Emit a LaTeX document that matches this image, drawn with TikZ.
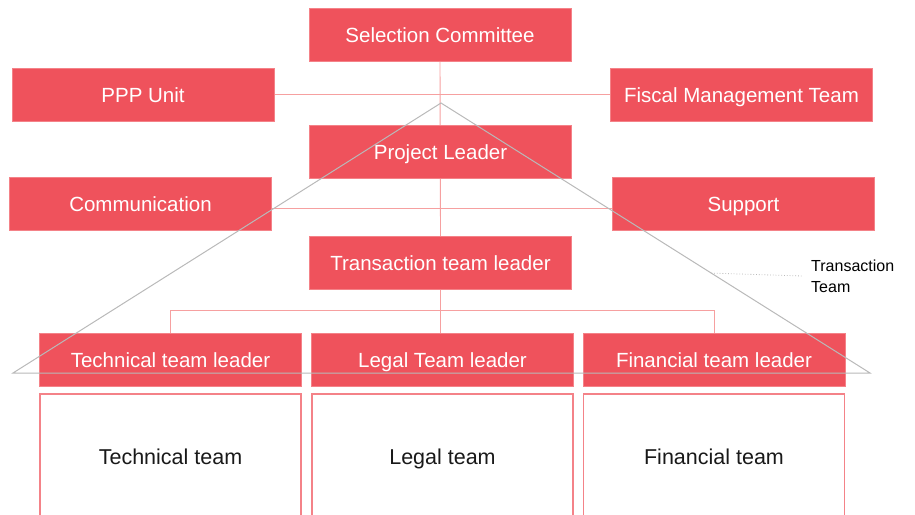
\documentclass[tikz,border=0pt]{standalone}
\usepackage{fontspec}
\setmainfont{Liberation Sans}
\usetikzlibrary{calc}
\pgfdeclarelayer{background}
\pgfsetlayers{background,main}
\definecolor{boxred}{RGB}{239,82,92}
\definecolor{boxedge}{RGB}{244,130,136}
\definecolor{linkred}{RGB}{246,160,160}
\definecolor{trigray}{RGB}{185,185,185}
\tikzset{
  redbox/.style={fill=boxred, draw=boxedge, line width=0.8pt, minimum width=262pt, minimum height=53pt,
    inner sep=0pt, text height=17pt, text depth=2pt, text=white, font=\fontsize{20.5}{24}\selectfont},
  teambox/.style={draw=boxedge, line width=1.5pt, fill=white, minimum width=261pt, minimum height=130pt,
    inner sep=0pt},
  teamlabel/.style={text=black!90, font=\fontsize{21.5}{26}\selectfont, inner sep=0pt,
    text height=18pt, text depth=2pt},
  link/.style={draw=linkred, line width=0.9pt},
  tri/.style={draw=trigray, line width=1pt},
}
\begin{document}
\begin{tikzpicture}[x=1pt,y=-1pt]
\useasboundingbox (0,0) rectangle (915,514);
\clip (0,0) rectangle (915,514);
\node[redbox] (sc) at (440,34.5) {Selection Committee};
\node[redbox] (ppp) at (143,94.5) {PPP Unit};
\node[redbox] (fmt) at (741.5,94.5) {Fiscal Management Team};
\node[redbox] (pl) at (440.5,152) {Project Leader};
\node[redbox] (com) at (140.5,203.5) {Communication};
\node[redbox] (sup) at (743.5,203.5) {Support};
\node[redbox] (ttl) at (440.5,263) {Transaction team leader};
\node[redbox] (tech) at (170.5,359.5) {Technical team leader};
\node[redbox] (legal) at (442.5,359.5) {Legal Team leader};
\node[redbox] (fin) at (714,359.5) {Financial team leader};
\node[teambox, anchor=north] (techt) at (170.5,393) {};
\node[teambox, anchor=north] (legalt) at (442.5,393) {};
\node[teambox, anchor=north] (fint) at (714,393) {};
\node[teamlabel] (techtl) at (170.5,456) {Technical team};
\node[teamlabel] (legaltl) at (442.5,456) {Legal team};
\node[teamlabel] (fintl) at (714,456) {Financial team};
\begin{pgfonlayer}{background}
  \path[link] (sc.south) -- (ttl.north);
  \path[link] (ttl.south) -- (ttl.south |- legal.north);
  \path[link] (ppp.east) -- (fmt.west);
  \path[link] ([yshift=-4.5pt]com.east) -- ([yshift=-4.5pt]sup.west);
  \path[link] (tech.north) -- ++(0,-22) -| (fin.north);
\end{pgfonlayer}
\coordinate (apex) at (441,103);
\coordinate (tl) at (13,373);
\coordinate (tr) at (870,373);
\path[tri] (tl) -- (apex) -- (tr) -- cycle;
\node[anchor=west, align=left, text=black, font=\fontsize{16}{21}\selectfont, inner sep=0pt] (tt) at (811,276) {Transaction\\Team};
\coordinate (tp) at ($(apex)!0.63!(tr)$);
\draw[trigray, dotted, line width=0.8pt] (tp) -- ([xshift=-8pt]tt.west);
\end{tikzpicture}
\end{document}
